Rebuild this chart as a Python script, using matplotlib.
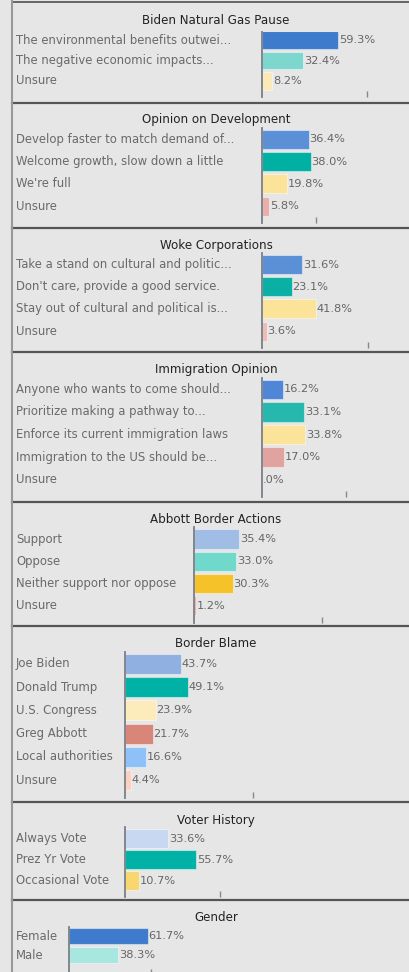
import matplotlib
matplotlib.use("Agg")
import matplotlib.pyplot as plt
from matplotlib.transforms import blended_transform_factory

W, H = 410, 972
PX_PER_PCT = 1.28
BG = '#e6e6e6'

# ---- data ----
gas_title = 'Biden Natural Gas Pause'
gas_labels = ['The environmental benefits outwei...', 'The negative economic impacts...', 'Unsure']
gas_values = [59.3, 32.4, 8.2]
gas_colors = ['#3f7bcc', '#7dd7cf', '#fce9b8']

dev_title = 'Opinion on Development'
dev_labels = ['Develop faster to match demand of...', 'Welcome growth, slow down a little', "We're full", 'Unsure']
dev_values = [36.4, 38.0, 19.8, 5.8]
dev_colors = ['#5b8fd6', '#00b0a2', '#fbe39a', '#e8b0aa']

woke_title = 'Woke Corporations'
woke_labels = ['Take a stand on cultural and politic...', "Don't care, provide a good service.",
               'Stay out of cultural and political is...', 'Unsure']
woke_values = [31.6, 23.1, 41.8, 3.6]
woke_colors = ['#5b8fd6', '#0ab0a4', '#fbe39a', '#ecbcb8']

imm_title = 'Immigration Opinion'
imm_labels = ['Anyone who wants to come should...', 'Prioritize making a pathway to...',
              'Enforce its current immigration laws', 'Immigration to the US should be...', 'Unsure']
imm_values = [16.2, 33.1, 33.8, 17.0, 0.0]
imm_colors = ['#4f86d6', '#26b8ac', '#fbe39a', '#e0a39f', '#e6e6e6']

abb_title = 'Abbott Border Actions'
abb_labels = ['Support', 'Oppose', 'Neither support nor oppose', 'Unsure']
abb_values = [35.4, 33.0, 30.3, 1.2]
abb_colors = ['#a0bde6', '#71d8cc', '#f5c22a', '#e8b0aa']

blame_title = 'Border Blame'
blame_labels = ['Joe Biden', 'Donald Trump', 'U.S. Congress', 'Greg Abbott', 'Local authorities', 'Unsure']
blame_values = [43.7, 49.1, 23.9, 21.7, 16.6, 4.4]
blame_colors = ['#8fb0e0', '#00b2a6', '#fcecbc', '#d8857a', '#8fc0f8', '#fcd0c0']

voter_title = 'Voter History'
voter_labels = ['Always Vote', 'Prez Yr Vote', 'Occasional Vote']
voter_values = [33.6, 55.7, 10.7]
voter_colors = ['#c8d8f0', '#00b2a6', '#f8d670']

gender_title = 'Gender'
gender_labels = ['Female', 'Male']
gender_values = [61.7, 38.3]
gender_colors = ['#3f7bcc', '#a8e6e0']

panels = [
    (gas_title, gas_labels, gas_values, gas_colors),
    (dev_title, dev_labels, dev_values, dev_colors),
    (woke_title, woke_labels, woke_values, woke_colors),
    (imm_title, imm_labels, imm_values, imm_colors),
    (abb_title, abb_labels, abb_values, abb_colors),
    (blame_title, blame_labels, blame_values, blame_colors),
    (voter_title, voter_labels, voter_values, voter_colors),
    (gender_title, gender_labels, gender_values, gender_colors),
]

# ---- layout (pixels): zero x, first row centre, row step, axis top, axis bottom, tick %, title y, separator y
layout = [
    (262, 40.0, 20.5, 32, 97, 82, 20, 103),
    (262, 139.5, 22.2, 128, 223, 42, 120, 228),
    (262, 264.5, 22.2, 253, 348, 83, 245, 352),
    (262, 389.5, 22.5, 378, 497, 66, 369, 502),
    (194, 539.0, 22.3, 527, 623, 100, 519, 626),
    (125, 664.0, 23.2, 652, 798, 100, 643, 802),
    (125, 838.5, 21.0, 827, 897, 74, 820, 900),
    (69, 936.0, 19.0, 927, 975, 64, 917, None),
]

fig = plt.figure(figsize=(W / 100, H / 100), dpi=100)
fig.patch.set_facecolor(BG)

def fx(px):
    return px / W

def fy(py):
    return 1 - py / H

for (title, labels, values, colors), (x0, c0, step, a_top, a_bot, tick, ty, sep) in zip(panels, layout):
    ax = fig.add_axes([fx(x0), fy(a_bot), fx(W - x0), (a_bot - a_top) / H])
    ax.set_facecolor('none')
    ypos = list(range(len(values)))
    ax.barh(ypos, values, height=0.86, color=colors, edgecolor=(1, 1, 1, 0.45), linewidth=0.8)
    ax.set_xlim(0, (W - x0) / PX_PER_PCT)
    ax.set_ylim((a_bot - c0) / step, (a_top - c0) / step)
    for s in ['top', 'right', 'bottom']:
        ax.spines[s].set_visible(False)
    ax.spines['left'].set_color('#7a7f86')
    ax.spines['left'].set_linewidth(1.3)
    ax.set_yticks([])
    ax.set_xticks([tick])
    ax.set_xticklabels([])
    ax.tick_params(axis='x', direction='in', length=4, color='#888888', width=1)

    for i, v in enumerate(values):
        txt = f'{v:.1f}%'.lstrip('0')
        ax.text(v + 0.6, i, txt, va='center', ha='left', fontsize=8.2, color='#666666')

    tr = blended_transform_factory(fig.transFigure, ax.transData)
    for i, lab in enumerate(labels):
        ax.text(fx(16), i, lab, transform=tr, va='center', ha='left', fontsize=8.4,
                color='#6a6a6a', clip_on=False)

    fig.text(fx(216), fy(ty), title, ha='center', va='center', fontsize=8.6, color='#222222')

    if sep is not None:
        fig.add_artist(plt.Line2D([fx(12), 1], [fy(sep), fy(sep)], color='#555555', lw=1.6))

# top line and left border
fig.add_artist(plt.Line2D([fx(12), 1], [fy(2), fy(2)], color='#666666', lw=1.4))
fig.add_artist(plt.Line2D([fx(12.5), fx(12.5)], [0, 1], color='#999999', lw=1.5))

fig.savefig('out.png', dpi=100, facecolor=BG)
